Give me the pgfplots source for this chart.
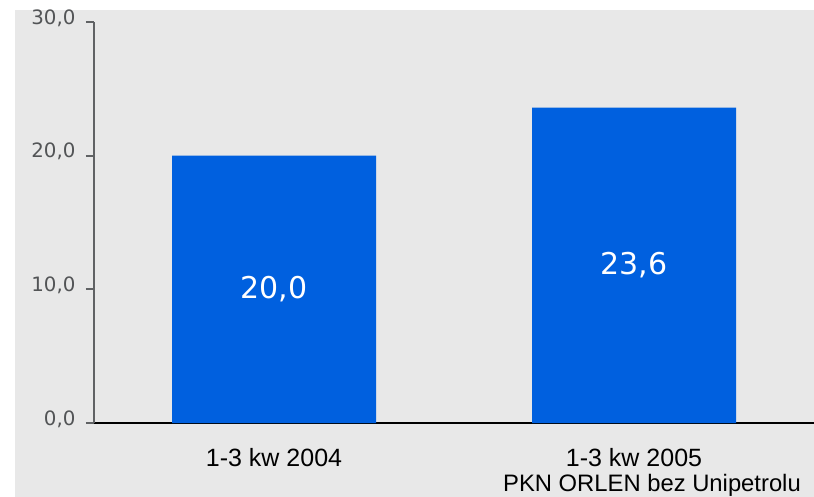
\documentclass[border=0pt]{standalone}
\usepackage{fontspec}
\usepackage{pgfplots}
\pgfplotsset{compat=1.18}
\setmainfont{DejaVu Sans}
\newfontfamily\arial{Liberation Sans}
\definecolor{bggray}{RGB}{232,232,232}
\definecolor{axisgray}{RGB}{96,98,100}
\definecolor{labelgray}{RGB}{82,84,86}
\definecolor{barblue}{RGB}{0,96,223}
\newcommand\ytickfont{\fontsize{19.8bp}{23bp}\selectfont}
\begin{document}
\begin{tikzpicture}
\clip (0,0) rectangle (814bp,497bp);
\fill[white] (0,0) rectangle (814bp,497bp);
\fill[bggray] (15bp,0) rectangle (814bp,487bp);
\begin{axis}[
  at={(94bp,74bp)}, anchor=south west,
  scale only axis, width=720bp, height=401bp,
  xmin=-0.5, xmax=1.5, ymin=0, ymax=30,
  ybar, bar width=204bp, bar shift=0pt,
  axis x line*=bottom, axis y line*=left,
  x axis line style={black, line width=2bp, -},
  y axis line style={axisgray, line width=2bp, -},
  tick align=outside,
  major tick length=8bp, minor tick length=9bp,
  xtick={0,1}, xtick style={draw=none},
  minor xtick={-0.5,0.5,1.5},
  minor x tick style={black, line width=1.5bp},
  xticklabels={{1-3 kw 2004},{1-3 kw 2005\\[-1bp]\hspace*{36bp}{\fontsize{23.8bp}{26bp}\selectfont PKN ORLEN bez Unipetrolu}}},
  xticklabel style={font=\arial\fontsize{25bp}{26bp}\selectfont, text=black, align=center, yshift=-14bp},
  ytick={0,10,20,30},
  yticklabels={{0,0},{10,0},{20,0},{30,0}},
  ytick style={draw=axisgray, line width=2bp},
  y tick label style={font=\ytickfont, text=labelgray, xshift=-7bp, yshift=4bp},
  nodes near coords,
  nodes near coords style={font=\fontsize{30bp}{32bp}\selectfont, text=white,
    /pgf/number format/fixed, /pgf/number format/fixed zerofill,
    /pgf/number format/precision=1, /pgf/number format/use comma,
    /pgf/number format/assume math mode=true},
  visualization depends on={y/2 \as \halfy},
  every node near coord/.append style={anchor=center, shift={(axis direction cs:0,-\halfy)}},
]
\addplot[fill=barblue, draw=none] coordinates {(0,20.0) (1,23.6)};
\end{axis}
\end{tikzpicture}
\end{document}
